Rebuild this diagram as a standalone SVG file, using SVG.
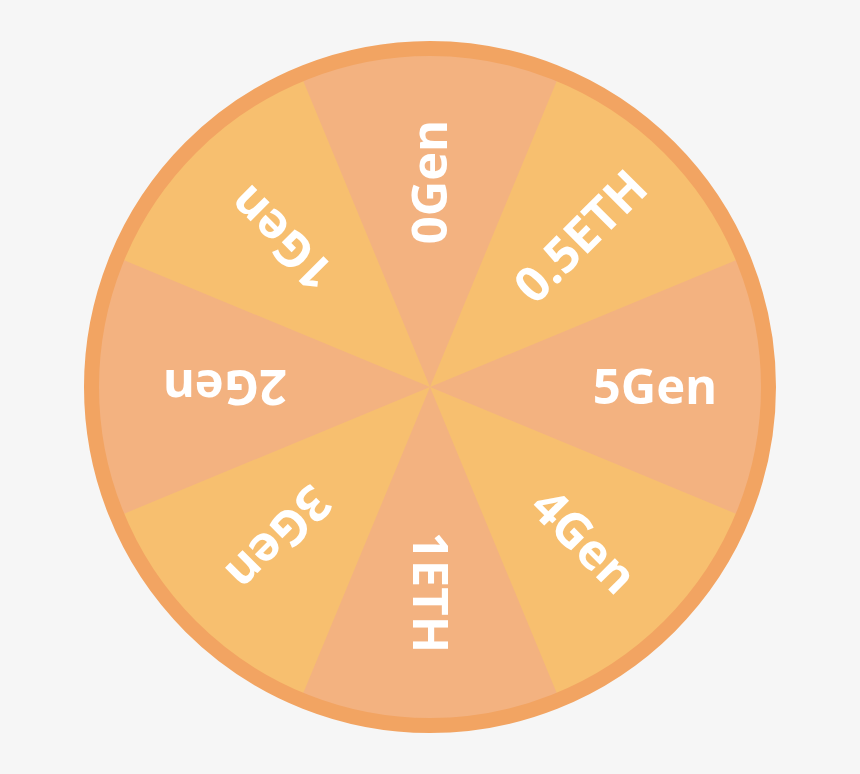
<svg xmlns="http://www.w3.org/2000/svg" width="860" height="774" viewBox="0 0 860 774">
<style>
.bg{fill:#f6f6f6}
.yel{fill:#f7bf6f}
.sal{fill:#f3b280}
.ring{fill:none;stroke:#f2a462;stroke-width:15}
.lbl{font-family:"Open Sans","DejaVu Sans",sans-serif;font-weight:bold;font-size:49px;fill:#ffffff;text-anchor:middle}
</style>
<rect class="bg" x="0" y="0" width="860" height="774"/>
<g id="wheel">
<circle class="yel" cx="430" cy="387" r="335"/>
<path class="sal" d="M430 387 L301.8 77.5 A335 335 0 0 1 558.2 77.5 Z"/>
<path class="sal" d="M430 387 L739.5 258.8 A335 335 0 0 1 739.5 515.2 Z"/>
<path class="sal" d="M430 387 L558.2 696.5 A335 335 0 0 1 301.8 696.5 Z"/>
<path class="sal" d="M430 387 L120.5 515.2 A335 335 0 0 1 120.5 258.8 Z"/>
<circle class="ring" cx="430" cy="387" r="338.5"/>
</g>
<g id="seg-0gen"><text class="lbl" dy="0.35em" transform="translate(430 387) rotate(270) translate(205 0)">0Gen</text></g>
<g id="seg-05eth"><text class="lbl" dy="0.35em" transform="translate(430 387) rotate(315) translate(213 0)">0.5ETH</text></g>
<g id="seg-5gen"><text class="lbl" dy="0.35em" transform="translate(430 387) rotate(0) translate(225 0)">5Gen</text></g>
<g id="seg-4gen"><text class="lbl" dy="0.35em" transform="translate(430 387) rotate(45) translate(218 0)">4Gen</text></g>
<g id="seg-1eth"><text class="lbl" dy="0.35em" transform="translate(430 387) rotate(90) translate(205.5 0)">1ETH</text></g>
<g id="seg-3gen"><text class="lbl" dy="0.35em" transform="translate(430 387) rotate(135) translate(214 0)">3Gen</text></g>
<g id="seg-2gen"><text class="lbl" dy="0.35em" transform="translate(430 387) rotate(180) translate(205 0)">2Gen</text></g>
<g id="seg-1gen"><text class="lbl" dy="0.35em" transform="translate(430 387) rotate(225) translate(210 0)">1Gen</text></g>
<g id="connectors"></g>
</svg>
